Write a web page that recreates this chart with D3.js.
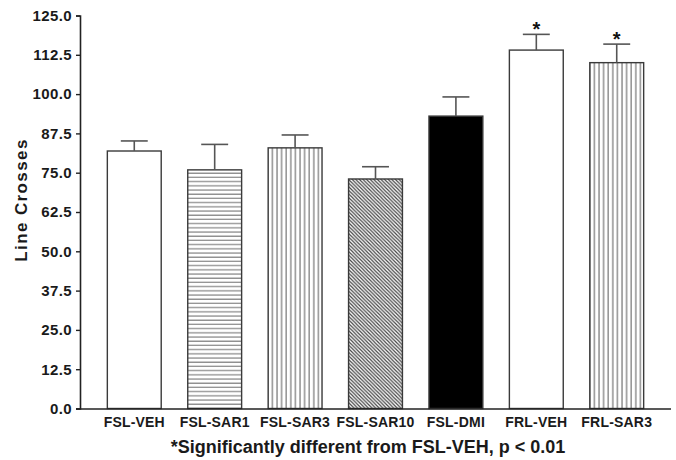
<!DOCTYPE html>
<html>
<head>
<meta charset="utf-8">
<script src="https://cdn.jsdelivr.net/npm/d3@7"></script>
<style>
  html, body { margin: 0; padding: 0; background: #fff; }
  svg { display: block; font-family: "Liberation Sans", Arial, Helvetica, sans-serif; }
</style>
</head>
<body>
<svg id="chart" width="676" height="460"></svg>
<script>
// Group labels, mean line crosses and SEM per group
const groups = ["FSL-VEH", "FSL-SAR1", "FSL-SAR3", "FSL-SAR10", "FSL-DMI", "FRL-VEH", "FRL-SAR3"];
const means  = [81.9, 75.9, 82.9, 73.0, 93.0, 114.0, 110.0];
const sems   = [3.2, 8.1, 4.1, 3.9, 6.1, 5.0, 5.9];
const fills  = ["white", "hlines", "vlines", "diag", "black", "white", "vlines"];
const significant = [false, false, false, false, false, true, true];
const yTicks = [0, 12.5, 25, 37.5, 50, 62.5, 75, 87.5, 100, 112.5, 125];
const yTitle = "Line Crosses";
const footnote = "*Significantly different from FSL-VEH, p < 0.01";

const svg = d3.select("#chart");

const x = d3.scaleBand().domain(groups).range([80, 671]).paddingInner(0.33).paddingOuter(0.34);
const y = d3.scaleLinear().domain([0, 125]).range([408.5, 15.5]);

// Fill patterns
const defs = svg.append("defs");
const ph = defs.append("pattern").attr("id", "hlines").attr("patternUnits", "userSpaceOnUse")
  .attr("width", 8).attr("height", 4.2);
ph.append("rect").attr("width", 8).attr("height", 4.2).attr("fill", "#fff");
ph.append("line").attr("x1", 0).attr("x2", 8).attr("y1", 1).attr("y2", 1)
  .attr("stroke", "#777").attr("stroke-width", 1.1);

const pv = defs.append("pattern").attr("id", "vlines").attr("patternUnits", "userSpaceOnUse")
  .attr("width", 4.6).attr("height", 8);
pv.append("rect").attr("width", 4.6).attr("height", 8).attr("fill", "#fff");
pv.append("line").attr("x1", 1).attr("x2", 1).attr("y1", 0).attr("y2", 8)
  .attr("stroke", "#666").attr("stroke-width", 1.1);

const pd = defs.append("pattern").attr("id", "diag").attr("patternUnits", "userSpaceOnUse")
  .attr("width", 3.6).attr("height", 3.6);
pd.append("rect").attr("width", 3.6).attr("height", 3.6).attr("fill", "#fff");
pd.append("path").attr("d", "M-1,-1 L4.6,4.6 M-1,2.6 L1,4.6 M2.6,-1 L4.6,1")
  .attr("stroke", "#444").attr("stroke-width", 1.2);

const fillOf = f => f === "white" ? "#fff" : f === "black" ? "#000" : `url(#${f})`;

const rows = groups.map((g, i) => ({ g, m: means[i], s: sems[i], f: fills[i], sig: significant[i] }));

// Bars
svg.append("g").selectAll("rect").data(rows).join("rect")
  .attr("x", d => x(d.g))
  .attr("y", d => y(d.m))
  .attr("width", x.bandwidth())
  .attr("height", d => y(0) - y(d.m))
  .attr("fill", d => fillOf(d.f))
  .attr("stroke", "#3a3a3a")
  .attr("stroke-width", 1.4);

// Upper error bars
const eb = svg.append("g").attr("stroke", "#555").attr("stroke-width", 1.6);
rows.forEach(d => {
  const cx = x(d.g) + x.bandwidth() / 2;
  const cw = x.bandwidth() / 4;
  eb.append("line").attr("x1", cx).attr("x2", cx).attr("y1", y(d.m)).attr("y2", y(d.m + d.s));
  eb.append("line").attr("x1", cx - cw).attr("x2", cx + cw).attr("y1", y(d.m + d.s)).attr("y2", y(d.m + d.s));
});

// Significance markers
svg.append("g").selectAll("text").data(rows.filter(d => d.sig)).join("text")
  .attr("x", d => x(d.g) + x.bandwidth() / 2)
  .attr("y", d => y(d.m + d.s) + 2)
  .attr("text-anchor", "middle")
  .attr("font-size", 20).attr("font-weight", "bold").attr("fill", "#111")
  .text("*");

// Y axis
const yAxis = svg.append("g").attr("transform", "translate(80,0)")
  .call(d3.axisLeft(y).tickValues(yTicks).tickFormat(d3.format(".1f")).tickSize(4).tickPadding(4));
yAxis.select(".domain").attr("stroke", "#222").attr("stroke-width", 1.6);
yAxis.selectAll(".tick line").attr("stroke", "#222").attr("stroke-width", 1.4);
yAxis.selectAll(".tick text").attr("font-size", 15).attr("font-weight", "bold")
  .attr("fill", "#1a1a1a").attr("font-family", "Liberation Sans, Arial, sans-serif")
  .style("letter-spacing", "0.4px");

// X axis
const xAxis = svg.append("g").attr("transform", `translate(0,${y(0)})`)
  .call(d3.axisBottom(x).tickSize(0).tickPadding(9));
xAxis.select(".domain").attr("stroke", "#222").attr("stroke-width", 1.6)
  .attr("d", `M76,0.5H671`);
xAxis.selectAll(".tick text").attr("font-size", 14).attr("font-weight", "bold")
  .attr("fill", "#1a1a1a").attr("font-family", "Liberation Sans, Arial, sans-serif")
  .style("letter-spacing", "0.2px");

// Axis title
svg.append("text")
  .attr("transform", "translate(27,200) rotate(-90)")
  .attr("text-anchor", "middle")
  .attr("font-size", 17).attr("font-weight", "bold").attr("fill", "#1a1a1a")
  .style("letter-spacing", "1.4px")
  .text(yTitle);

// Footnote
svg.append("text")
  .attr("x", 368).attr("y", 453)
  .attr("text-anchor", "middle")
  .attr("font-size", 18).attr("font-weight", "bold").attr("fill", "#1a1a1a")
  .text(footnote);
</script>
</body>
</html>
